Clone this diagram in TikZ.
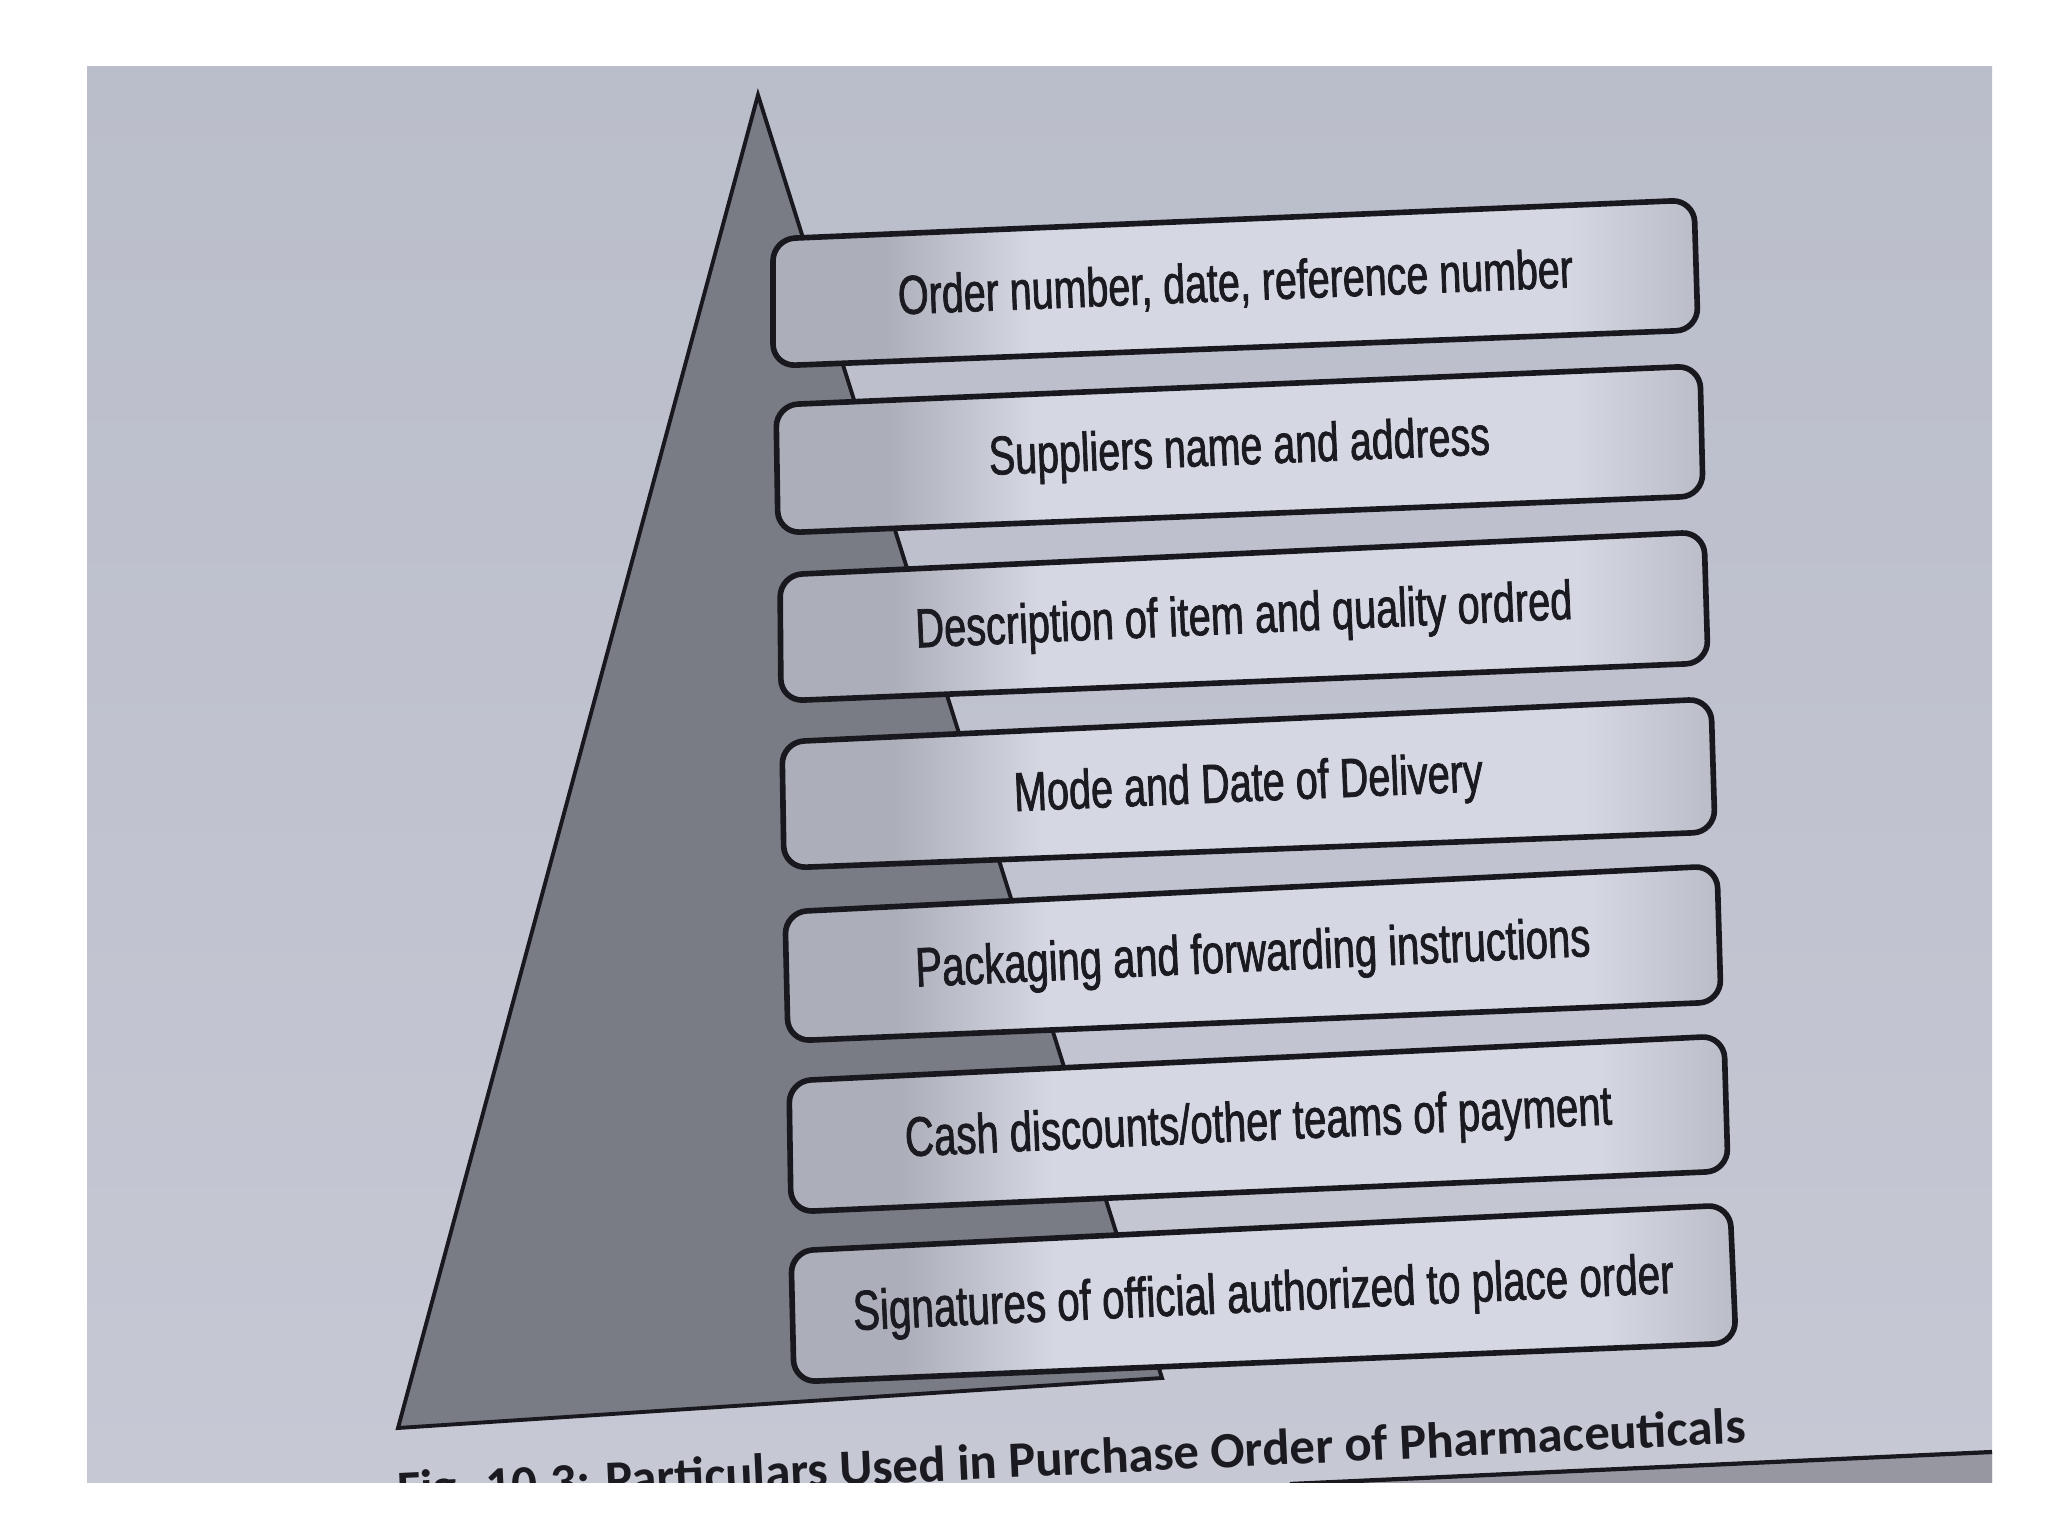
\documentclass[tikz,border=0pt]{standalone}
\usepackage{fontspec}
\usepackage{graphicx}
\usetikzlibrary{calc}
\newfontfamily\narrowfont[FakeStretch=0.72, FakeBold=1.3]{Liberation Sans}
\newfontfamily\capfont{Carlito}
\definecolor{pagetop}{RGB}{186,189,202}
\definecolor{pagemid}{RGB}{208,211,222}
\definecolor{pagebot}{RGB}{198,201,212}
\definecolor{trigray}{RGB}{122,124,133}
\definecolor{lineblk}{RGB}{24,24,30}
\definecolor{textcol}{RGB}{26,26,32}
\definecolor{barleft}{RGB}{172,175,186}
\definecolor{barmid}{RGB}{213,216,227}
\definecolor{barright}{RGB}{186,189,199}
\definecolor{stripgray}{RGB}{150,151,160}
\pgfdeclarehorizontalshading{barshade}{100bp}{color(0bp)=(barleft); color(25bp)=(barleft); color(31bp)=(barleft); color(39bp)=(barmid); color(68bp)=(barmid); color(75bp)=(barright); color(100bp)=(barright)}
\tikzset{
  barbox/.style={shade, shading=barshade, draw=lineblk, line width=1.6pt, rounded corners=0.22cm},
  tri/.style={fill=trigray, draw=lineblk, line width=1.1pt, line join=miter},
  lbl/.style={font=\narrowfont, text=textcol, inner sep=0pt},
  captext/.style={font=\capfont\bfseries, text=textcol, inner sep=0pt},
}
\begin{document}
\begin{tikzpicture}[x=0.01cm, y=-0.01cm]
\useasboundingbox[fill=white] (0,0) rectangle (2048,1534);
% page
\coordinate (pg1) at (87,67);
\coordinate (pg2) at (1992,1482);
\begin{scope}
\clip (pg1) rectangle (pg2);
\shade[top color=pagetop, middle color=pagemid, bottom color=pagebot] (pg1) rectangle (pg2);
% triangle
\coordinate (apex) at (758,95);
\coordinate (tbl) at (398,1428);
\coordinate (tbr) at (1162,1378);
\path[tri] (apex) -- (tbr) -- (tbl) -- cycle;
% bars
\coordinate (b1tl) at (773,239);  \coordinate (b1tr) at (1694,200); \coordinate (b1br) at (1698,330); \coordinate (b1bl) at (773,366);
\coordinate (b2tl) at (776,405);  \coordinate (b2tr) at (1700,366); \coordinate (b2br) at (1703,496); \coordinate (b2bl) at (778,533);
\coordinate (b3tl) at (780,575);  \coordinate (b3tr) at (1704,532); \coordinate (b3br) at (1708,663); \coordinate (b3bl) at (781,701);
\coordinate (b4tl) at (782,742);  \coordinate (b4tr) at (1711,699); \coordinate (b4br) at (1715,832); \coordinate (b4bl) at (784,868);
\coordinate (b5tl) at (785,912);  \coordinate (b5tr) at (1717,866); \coordinate (b5br) at (1721,1002); \coordinate (b5bl) at (788,1041);
\coordinate (b6tl) at (789,1081); \coordinate (b6tr) at (1724,1036); \coordinate (b6br) at (1728,1171); \coordinate (b6bl) at (791,1212);
\coordinate (b7tl) at (791,1251); \coordinate (b7tr) at (1730,1205); \coordinate (b7br) at (1736,1343); \coordinate (b7bl) at (794,1382);
\foreach \i in {1,...,7} {
  \path[barbox] (b\i tl) -- (b\i tr) -- (b\i br) -- (b\i bl) -- cycle;
}
\node[lbl, rotate=2.3]  (t1) at ($(b1tl)!0.5!(b1br)$) {\resizebox{6.75cm}{!}{Order number, date, reference number}};
\node[lbl, rotate=2.35] (t2) at ($(b2tl)!0.5!(b2br)$) {\resizebox{5.01cm}{!}{Suppliers name and address}};
\node[lbl, rotate=2.5]  (t3) at ($(b3tl)!0.5!(b3br)$) {\resizebox{6.57cm}{!}{Description of item and quality ordred}};
\node[lbl, rotate=2.45] (t4) at ($(b4tl)!0.5!(b4br)$) {\resizebox{4.69cm}{!}{Mode and Date of Delivery}};
\node[lbl, rotate=2.6]  (t5) at ($(b5tl)!0.5!(b5br)$) {\resizebox{6.75cm}{!}{Packaging and forwarding instructions}};
\node[lbl, rotate=2.6]  (t6) at ($(b6tl)!0.5!(b6br)$) {\resizebox{7.07cm}{!}{Cash discounts/other teams of payment}};
\node[lbl, rotate=2.6]  (t7) at ($(b7tl)!0.5!(b7br)$) {\resizebox{8.21cm}{!}{Signatures of official authorized to place order}};
% caption
\node[captext, rotate=2.7, anchor=base east] (caption) at (1747,1443) {\resizebox{13.49cm}{!}{Fig. 10.3: Particulars Used in Purchase Order of Pharmaceuticals}};
% lower right strip
\coordinate (s1) at (1290,1484);
\coordinate (s2) at (1992,1452);
\coordinate (s3) at (1992,1484);
\fill[stripgray] (s1) -- (s2) -- (s3) -- cycle;
\draw[lineblk, line width=1.2pt] (s1) -- (s2);
\end{scope}
\end{tikzpicture}
\end{document}
